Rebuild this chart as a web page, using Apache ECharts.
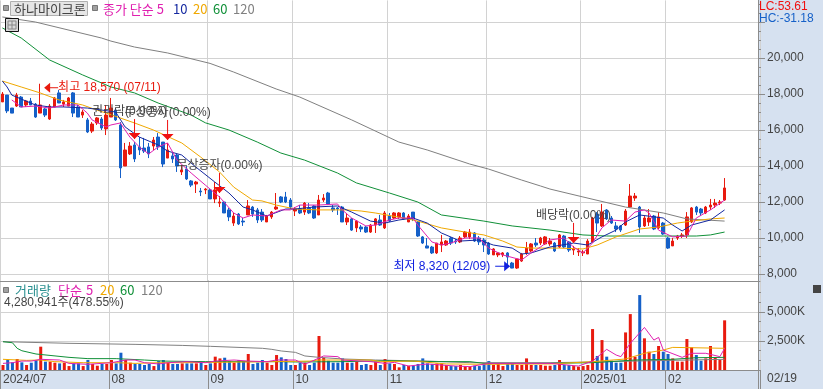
<!DOCTYPE html>
<html>
<head>
<meta charset="utf-8">
<style>
  html, body { margin: 0; padding: 0; background: #fff; }
  #chart { width: 823px; height: 389px; }
</style>
<script src="https://cdn.jsdelivr.net/npm/echarts@6/dist/echarts.min.js"></script>
</head>
<body>
<div id="chart"></div>
<script>
// [open, close, low, high], one row per trading day from 2024/07/01
const candles = [
  [17560,18000,17560,18110],[17940,17060,16940,17940],[17220,16940,16940,17220],[17330,17940,17280,18060],
  [17830,17280,17280,17890],[17390,17610,17280,17670],[17610,17390,17390,17780],[17440,16720,16670,17500],
  [16940,17390,16940,18570],[17170,16830,16720,17220],[16610,17330,16560,17440],[17280,17780,17280,17830],
  [18060,17500,17500,18220],[17440,17560,17280,17670],[17330,17780,17330,17830],[18060,16940,16720,18110],
  [17280,16720,16720,17390],[16830,17000,16670,17110],[16560,15890,15830,16670],[15940,16330,15830,16440],
  [16390,16670,16280,16720],[16610,16110,16000,16720],[16060,16830,15720,17390],[16720,17220,16720,17780],
  [17110,16560,16500,17220],[16280,13890,13330,16440],[14000,14890,14000,15280],[14670,15110,14610,15330],
  [15170,14390,14220,15330],[15060,14890,14610,15610],[15000,14830,14720,15560],[15060,14670,14440,15280],
  [15110,15440,14890,15610],[15610,15060,14890,15830],[15330,14110,13940,15330],[14440,14890,14440,15280],
  [14560,14390,14170,14720],[14610,14000,13670,14670],[13670,13780,13500,14060],[13830,13280,13220,14000],
  [13170,12940,12830,13220],[13000,13110,12500,13170],[12610,12560,12330,12780],[12670,12720,12440,12780],
  [12670,12170,12170,12720],[12170,12670,11940,13110],[11940,12000,11720,12330],[12000,11390,11390,12060],
  [11560,11170,10940,11670],[10830,11220,10670,11390],[11330,10780,10720,11390],[10940,10890,10670,11110],
  [11280,11780,11280,12110],[11720,11330,11170,11780],[11560,11000,10830,11670],[11440,11000,10890,11610],
  [10890,11220,10890,11280],[11170,11440,11060,11500],[11610,11720,11560,12500],[12280,12000,11940,12330],
  [12280,12000,11940,12560],[12110,11720,11610,12220],[11500,11610,11220,11720],[11610,11390,11330,11830],
  [11440,11940,11280,12000],[11670,11390,11330,11940],[11780,11110,11060,11830],[11280,12110,11280,12390],
  [12110,12220,12000,12440],[12500,11890,11830,12560],[11670,11560,11440,11830],[11670,11610,11280,11720],
  [11720,10890,10890,11780],[10890,11110,10720,11390],[11060,10440,10390,11110],[10560,10940,10330,11000],
  [10610,10500,10330,10720],[10610,10330,10280,10670],[10330,10720,10280,10780],[10720,11060,10280,11110],
  [11000,10720,10670,11280],[10560,11390,10500,11500],[11220,10940,10890,11390],[11110,11390,11060,11440],
  [11170,11390,11060,11440],[11390,11060,11000,11440],[10890,11220,10890,11330],[11440,11060,10940,11440],
  [10890,10110,10060,10940],[10060,9720,9670,10110],[9560,9440,9440,10000],[9500,9170,9110,9560],
  [9170,9720,9110,9720],[9610,9780,9220,10170],[9610,9830,9560,9890],[10000,9720,9610,10060],
  [9830,9780,9670,9940],[9780,10000,9720,10110],[10060,10330,10000,10390],[10060,10330,9940,10500],
  [10280,9830,9780,10330],[10000,9780,9610,10110],[9890,9610,9220,10000],[9720,9110,9060,9780],
  [9060,9390,9060,9440],[9060,9170,8940,9220],[9060,9170,8940,9220],[9170,8940,8500,9220],
  [8610,8330,8320,8670],[8330,8830,8280,8830],[8720,9110,8670,9170],[9170,9440,9060,9780],
  [9280,9670,9220,9720],[9720,9610,9500,10000],[9720,10000,9610,10060],[9670,10060,9610,10110],
  [9670,9830,9560,10000],[9720,9280,9220,9780],[9500,10170,9440,10220],[10110,9500,9440,10170],
  [9780,9330,9220,9830],[9330,9390,9060,9560],[9220,9280,9000,9440],[9170,9220,9000,9330],
  [9110,9830,9110,9940],[9780,11110,9780,11170],[11330,10830,10330,11440],[10670,11440,10610,11890],
  [11560,11060,11000,11610],[11110,10830,10780,11220],[10670,10500,10330,10890],[10670,10440,10330,10720],
  [10720,11500,10670,11610],[11720,12330,11670,13000],[12220,12330,12060,12500],[11720,10610,10280,11780],
  [10670,11110,10610,11220],[10890,11110,10670,11610],[11220,10500,10440,11280],[10560,11170,10500,11440],
  [10830,10220,10170,10890],[10000,9440,9390,10060],[9560,9830,9560,10000],[10000,10110,9890,10170],
  [10110,10170,10000,10280],[10170,11170,10000,11440],[10890,11670,10830,11720],[11720,11440,11280,11780],
  [11610,11390,11220,11670],[11390,11720,11330,11780],[11720,11830,11560,12170],[11830,11940,11670,12170],
  [11940,12000,11830,12110],[12110,12780,12060,13330]
];

// traded shares in thousands, same days as candles
const volumes = [
  430,860,660,950,660,430,630,860,2010,720,720,630,570,630,340,570,570,340,860,520,
  370,520,520,860,570,1490,860,630,520,520,430,520,340,770,860,630,520,520,570,570,
  570,570,630,430,570,1150,1000,1060,770,630,860,770,1380,520,630,860,630,430,1290,1090,
  950,430,430,630,630,430,630,2930,1060,800,630,630,1000,630,630,720,430,520,430,720,
  430,950,570,520,230,430,370,370,520,1000,570,520,570,570,430,340,340,430,340,290,
  370,340,570,770,430,570,340,570,570,430,430,1000,430,430,430,370,370,430,860,430,
  430,340,290,340,430,3530,1210,2580,1150,800,630,630,3240,4820,1150,6460,2730,1580,1380,2070,
  1580,1380,1000,720,720,2670,1950,1290,800,1000,2070,1090,860,4281
];

// moving averages as [day index, value]
const priceMa5 = [[2,17670],[4,17280],[7,17330],[10,17220],[13,17390],[16,17390],[18,16940],[19,16560],[22,16170],[23,16280],[25,16390],[27,15610],[29,15060],[31,14670],[33,15060],[35,15280],[37,14330],[40,13610],[43,12940],[46,12280],[49,11390],[51,11110],[53,11280],[56,11220],[59,11560],[61,11560],[63,11830],[67,11830],[71,11890],[72,11560],[74,11110],[77,10670],[79,10720],[82,11000],[84,11110],[87,11110],[88,10720],[91,9780],[93,9610],[95,9720],[98,10000],[101,10000],[103,9440],[106,9060],[110,8780],[112,9170],[114,9500],[116,9890],[119,10000],[121,9500],[123,9170],[125,9720],[127,10560],[129,11000],[132,10940],[134,11440],[136,11560],[137,11390],[139,10440],[142,10060],[145,10110],[147,11110],[150,11560],[153,12110]];
const priceMa10 = [[0,18720],[1,18390],[2,17940],[7,17390],[10,17280],[13,17280],[18,17220],[21,17110],[24,17000],[26,16170],[29,15610],[33,15170],[35,14830],[38,14610],[41,13940],[45,13110],[48,12500],[51,11720],[53,11560],[56,11220],[60,11610],[62,11610],[66,11720],[71,11780],[74,11440],[78,10940],[81,10830],[84,11000],[87,11110],[90,10830],[93,10280],[97,9830],[101,9890],[104,9610],[108,9440],[110,9110],[112,9170],[116,9500],[121,9720],[124,9610],[127,10060],[130,10440],[132,10890],[135,11280],[140,11110],[142,10720],[144,10390],[146,10720],[150,11000],[153,11560]];
const priceMa20 = [[0,18720],[4,18390],[8,18060],[12,17670],[17,17390],[20,17110],[22,16940],[28,16390],[32,16000],[38,15280],[42,14500],[46,13670],[49,12830],[53,12110],[55,12060],[58,11830],[62,11610],[67,11560],[73,11560],[76,11500],[79,11390],[85,11110],[88,10940],[93,10560],[98,10330],[102,10170],[106,9830],[109,9500],[112,9440],[118,9440],[123,9390],[126,9610],[130,10060],[135,10500],[139,10610],[143,10830],[146,10940],[150,11060],[153,11110]];
const priceMa60 = [[0,21670],[4,21110],[10,19890],[17,19060],[23,18390],[28,18060],[33,17500],[40,16830],[43,16400],[48,16000],[54,15330],[59,14720],[64,14330],[71,13610],[75,13060],[82,12500],[88,12000],[93,11280],[102,10940],[108,10670],[116,10440],[123,10170],[128,10110],[134,10110],[140,10110],[147,10110],[150,10170],[153,10330]];
const priceMa120 = [[0,22280],[7,22000],[21,21110],[23,20940],[28,20610],[35,20280],[44,19700],[49,19220],[58,18280],[63,17830],[74,16560],[84,15330],[90,14890],[99,14110],[103,13830],[110,13220],[114,12890],[116,12720],[123,12280],[132,11720],[140,11390],[145,11060],[153,10940]];

const volMa5 = [[0,570],[2,630],[4,770],[6,770],[8,920],[12,860],[14,570],[18,490],[23,630],[26,860],[28,860],[30,630],[33,520],[35,630],[39,720],[43,630],[45,770],[49,860],[52,770],[56,720],[58,860],[62,860],[64,490],[68,1210],[71,1150],[72,860],[78,720],[81,570],[83,660],[86,340],[90,520],[96,340],[99,290],[103,570],[110,570],[116,570],[122,340],[125,770],[128,1780],[130,1290],[131,1150],[133,2300],[136,3670],[138,2580],[139,2810],[140,1720],[144,1090],[146,1440],[149,1440],[152,1150],[153,1870]];
const volMa20 = [[0,920],[5,830],[8,860],[11,720],[17,630],[24,630],[28,570],[33,630],[38,630],[45,660],[57,720],[65,770],[67,860],[78,860],[80,720],[87,770],[94,520],[103,490],[116,520],[125,720],[132,950],[136,1440],[140,1720],[142,1950],[153,1870]];
const volMa60 = [[0,2440],[2,2350],[3,1870],[4,1660],[7,1380],[14,1090],[18,980],[24,980],[30,860],[34,770],[43,720],[59,720],[62,690],[72,720],[82,800],[92,720],[99,720],[102,570],[116,570],[125,630],[134,860],[142,920],[147,1060],[153,1090]];
const volMa120 = [[0,2440],[14,2300],[28,2210],[38,2120],[44,2040],[55,1870],[57,1780],[59,1640],[62,1520],[64,1210],[67,1090],[72,950],[79,860],[90,770],[99,630],[116,630],[125,690],[134,770],[153,920]];

// first trading day of each month on the time axis
const monthTicks = { 0: '2024/07', 23: '08', 44: '09', 62: '10', 82: '11', 103: '12', 123: '2025/01', 141: '02' };
const slotCount = 161;
const slots = [];
for (let i = 0; i < slotCount; i++) slots.push(String(i));

const priceLabels = [8000, 10000, 12000, 14000, 16000, 18000, 20000];
const priceGridValues = [8000, 10000, 12000, 14000, 16000, 18000, 20000, 22000];
const priceMinorTicks = [8000, 8500, 9000, 9500, 10000, 10500, 11000, 11500, 12000, 12500, 13000, 13500, 14000, 14500, 15000, 15500, 16000, 16500, 17000, 17500, 18000, 18500, 19000, 19500, 20000, 20500, 21000, 21500, 22000, 22500, 23000];
const volLabels = [2500, 5000];
const volMinorTicks = [0, 830, 1670, 3330, 4170, 5830, 6670];

// corporate events: [day index, candle high]
const eventPoints = [[28, 15330], [35, 15280], [46, 12330], [121, 9560]];
const eventTexts = ['권리락(0.00%)', '무상증자(0.00%)', '무상증자(0.00%)', '배당락(0.00%)'];
const peakPoint = [8, 18570];
const peakText = '최고 18,570 (07/11)';
const troughPoint = [108, 8320];
const troughText = '최저 8,320 (12/09)';

const RED = '#e81a0e';
const BLUE = '#1560c8';
const C5 = '#e020b0';
const C10 = '#1428a0';
const C20 = '#f0a800';
const C60 = '#109038';
const C120 = '#808080';
const GRID = '#d2d2d2';
const AXIS = '#8c8c8c';
const STRIP = '#d6e1f0';
const TEXT = '#444';
const KR_FONT = '"Noto Sans CJK KR", sans-serif';
const NUM_FONT = '"Liberation Sans", "Noto Sans CJK KR", sans-serif';

function lineSeries(data, color, yAxisIndex, xAxisIndex) {
  return {
    type: 'line',
    data: data,
    xAxisIndex: xAxisIndex,
    yAxisIndex: yAxisIndex,
    symbol: 'none',
    smooth: false,
    silent: true,
    z: 4,
    lineStyle: { color: color, width: 1 }
  };
}

function renderEvent(params, api) {
  const p = api.coord([api.value(0), api.value(1)]);
  const tip = p[1] - 3;
  const top = tip - 20;
  // the first label sits a little left of its arrow in the original
  const textX = params.dataIndex === 0 ? p[0] - 5 : p[0];
  return {
    type: 'group',
    children: [
      { type: 'line', shape: { x1: p[0], y1: top, x2: p[0], y2: tip }, style: { stroke: '#f01010', lineWidth: 1 } },
      { type: 'polygon', shape: { points: [[p[0] - 6, tip - 6], [p[0] + 6, tip - 6], [p[0], tip]] }, style: { fill: '#f01010' } },
      { type: 'text', style: { text: eventTexts[params.dataIndex], x: textX, y: top - 7, fill: TEXT, font: '12px ' + NUM_FONT, align: 'center', verticalAlign: 'middle' } }
    ]
  };
}

function renderPeak(params, api) {
  const p = api.coord([api.value(0), api.value(1)]);
  const y = p[1] + 4;
  const x = p[0] + 4;
  return {
    type: 'group',
    children: [
      { type: 'line', shape: { x1: x + 5, y1: y, x2: x + 14, y2: y }, style: { stroke: RED, lineWidth: 1 } },
      { type: 'polygon', shape: { points: [[x, y], [x + 6, y - 5], [x + 6, y + 5]] }, style: { fill: RED } },
      { type: 'text', style: { text: peakText, x: x + 14, y: y, fill: RED, font: '12px ' + NUM_FONT, align: 'left', verticalAlign: 'middle' } }
    ]
  };
}

function renderTrough(params, api) {
  const p = api.coord([api.value(0), api.value(1)]);
  const y = p[1] - 2;
  const x = p[0] - 2;
  return {
    type: 'group',
    children: [
      { type: 'line', shape: { x1: x - 15, y1: y, x2: x - 5, y2: y }, style: { stroke: '#1020e0', lineWidth: 1 } },
      { type: 'polygon', shape: { points: [[x, y], [x - 6, y - 5], [x - 6, y + 5]] }, style: { fill: '#1020e0' } },
      { type: 'text', style: { text: troughText, x: x - 20, y: y, fill: '#1020e0', font: '12px ' + NUM_FONT, align: 'right', verticalAlign: 'middle' } }
    ]
  };
}

function label(text, x, y, color, font) {
  return { type: 'text', z: 100, silent: true, style: { text: text, x: x, y: y, fill: color, font: font || '13px ' + KR_FONT, verticalAlign: 'middle' } };
}

function legendSquare(x, y) {
  return { type: 'rect', z: 100, silent: true, shape: { x: x, y: y, width: 5, height: 5 }, style: { fill: '#a0a0a0', stroke: '#777', lineWidth: 1 } };
}

const graphics = [
  { type: 'rect', z: -10, silent: true, shape: { x: 758, y: 0, width: 65, height: 389 }, style: { fill: STRIP } },
  { type: 'rect', z: -10, silent: true, shape: { x: 0, y: 371, width: 823, height: 18 }, style: { fill: STRIP } },
  { type: 'line', z: 50, silent: true, shape: { x1: 758.5, y1: 0, x2: 758.5, y2: 389 }, style: { stroke: AXIS, lineWidth: 1 } },
  legendSquare(3.5, 5.5),
  { type: 'rect', z: 100, silent: true, shape: { x: 10.5, y: 1.5, width: 77, height: 14 }, style: { fill: '#e6e6e6', stroke: '#b0b0b0', lineWidth: 1 } },
  label('하나마이크론', 14, 9, TEXT),
  legendSquare(92.5, 5.5),
  label('종가 단순 5', 103, 9, C5),
  label('10', 173, 9, C10),
  label('20', 193, 9, C20),
  label('60', 213, 9, C60),
  label('120', 233, 9, C120),
  { type: 'rect', z: 100, silent: true, shape: { x: 5.5, y: 18.5, width: 13, height: 13 }, style: { fill: '#d8d8d8', stroke: '#111', lineWidth: 1 } },
  { type: 'polyline', z: 101, silent: true, shape: { points: [[8, 21], [16, 21], [16, 29], [8, 29], [8, 21]] }, style: { fill: 'none', stroke: '#888', lineWidth: 1 } },
  { type: 'line', z: 101, silent: true, shape: { x1: 12, y1: 21, x2: 12, y2: 29 }, style: { stroke: '#888', lineWidth: 1 } },
  { type: 'line', z: 101, silent: true, shape: { x1: 8, y1: 25, x2: 16, y2: 25 }, style: { stroke: '#888', lineWidth: 1 } },
  legendSquare(3.5, 287.5),
  label('거래량', 15, 290, '#2a9090'),
  label('단순', 58, 290, C5),
  label('5', 86, 290, C5),
  label('20', 100, 290, C20),
  label('60', 120, 290, C60),
  label('120', 141, 290, C120),
  label('4,280,941주(478.55%)', 4, 303, TEXT, '12px ' + NUM_FONT),
  label('LC:53.61', 759, 7, '#f01010', '12px ' + NUM_FONT),
  label('HC:-31.18', 759, 19, BLUE, '12px ' + NUM_FONT),
  label('02/19', 767, 379, TEXT, '12px ' + NUM_FONT),
  { type: 'rect', z: 100, silent: true, shape: { x: 813, y: 285, width: 8, height: 8 }, style: { fill: '#444' } }
];

const commonY = {
  type: 'value',
  position: 'right',
  offset: -2,
  axisLine: { show: true, lineStyle: { color: AXIS } }
};

const option = {
  animation: false,
  backgroundColor: '#fff',
  graphic: graphics,
  grid: [
    { left: 0, top: 0.4, width: 760, height: 280.8 },
    { left: 0, top: 280.1, width: 760, height: 89.9 }
  ],
  xAxis: [
    {
      type: 'category', gridIndex: 0, data: slots, boundaryGap: true,
      axisLine: { show: true, lineStyle: { color: AXIS } },
      axisTick: { show: false }, axisLabel: { show: false },
      splitLine: { show: true, interval: i => monthTicks[i] !== undefined, lineStyle: { color: GRID } }
    },
    {
      type: 'category', gridIndex: 1, data: slots, boundaryGap: true,
      axisLine: { show: true, lineStyle: { color: AXIS } },
      axisTick: { show: true, length: 19, interval: i => monthTicks[i] !== undefined, lineStyle: { color: AXIS } },
      axisLabel: {
        show: true, margin: 4, align: 'left', color: TEXT,
        fontFamily: NUM_FONT, fontSize: 12,
        interval: i => monthTicks[i] !== undefined,
        formatter: (v, i) => monthTicks[i] || ''
      },
      splitLine: { show: true, interval: i => monthTicks[i] !== undefined, lineStyle: { color: GRID } }
    }
  ],
  yAxis: [
    Object.assign({}, commonY, {
      gridIndex: 0, min: 7600, max: 23200,
      axisTick: { show: true, length: 7, customValues: priceGridValues, lineStyle: { color: AXIS } },
      axisLabel: { show: true, customValues: priceLabels, margin: 9, color: TEXT, fontFamily: NUM_FONT, fontSize: 12, formatter: v => v.toLocaleString('en-US') },
      splitLine: { show: true, lineStyle: { color: GRID } }
    }),
    Object.assign({}, commonY, {
      gridIndex: 0, min: 7600, max: 23200,
      axisTick: { show: true, length: 3, customValues: priceMinorTicks, lineStyle: { color: AXIS } },
      axisLabel: { show: false },
      splitLine: { show: false }
    }),
    Object.assign({}, commonY, {
      gridIndex: 1, min: 0, max: 7750,
      axisTick: { show: true, length: 7, customValues: volLabels, lineStyle: { color: AXIS } },
      axisLabel: { show: true, customValues: volLabels, margin: 9, color: TEXT, fontFamily: NUM_FONT, fontSize: 12, formatter: v => v.toLocaleString('en-US') + 'K' },
      splitLine: { show: true, lineStyle: { color: GRID } }
    }),
    Object.assign({}, commonY, {
      gridIndex: 1, min: 0, max: 7750,
      axisTick: { show: true, length: 3, customValues: volMinorTicks, lineStyle: { color: AXIS } },
      axisLabel: { show: false },
      splitLine: { show: false }
    })
  ],
  series: [
    lineSeries(priceMa120, C120, 0, 0),
    lineSeries(priceMa60, C60, 0, 0),
    lineSeries(priceMa20, C20, 0, 0),
    {
      type: 'candlestick',
      xAxisIndex: 0,
      yAxisIndex: 0,
      data: candles,
      barWidth: 3,
      silent: true,
      z: 3,
      itemStyle: { color: RED, color0: BLUE, borderColor: RED, borderColor0: BLUE, borderWidth: 1 }
    },
    lineSeries(priceMa10, C10, 0, 0),
    lineSeries(priceMa5, C5, 0, 0),
    { type: 'custom', xAxisIndex: 0, yAxisIndex: 0, data: eventPoints, renderItem: renderEvent, silent: true, clip: false, z: 6, encode: { x: 0, y: 1 } },
    { type: 'custom', xAxisIndex: 0, yAxisIndex: 0, data: [peakPoint], renderItem: renderPeak, silent: true, clip: false, z: 6, encode: { x: 0, y: 1 } },
    { type: 'custom', xAxisIndex: 0, yAxisIndex: 0, data: [troughPoint], renderItem: renderTrough, silent: true, clip: false, z: 6, encode: { x: 0, y: 1 } },
    {
      type: 'bar',
      xAxisIndex: 1,
      yAxisIndex: 2,
      data: volumes,
      barWidth: 3,
      silent: true,
      z: 3,
      itemStyle: { color: p => (candles[p.dataIndex][1] >= candles[p.dataIndex][0] ? RED : BLUE) }
    },
    lineSeries(volMa120, C120, 2, 1),
    lineSeries(volMa60, C60, 2, 1),
    lineSeries(volMa20, C20, 2, 1),
    lineSeries(volMa5, C5, 2, 1)
  ]
};

const myChart = echarts.init(document.getElementById('chart'), null, { renderer: 'canvas' });
myChart.setOption(option);
</script>
</body>
</html>
